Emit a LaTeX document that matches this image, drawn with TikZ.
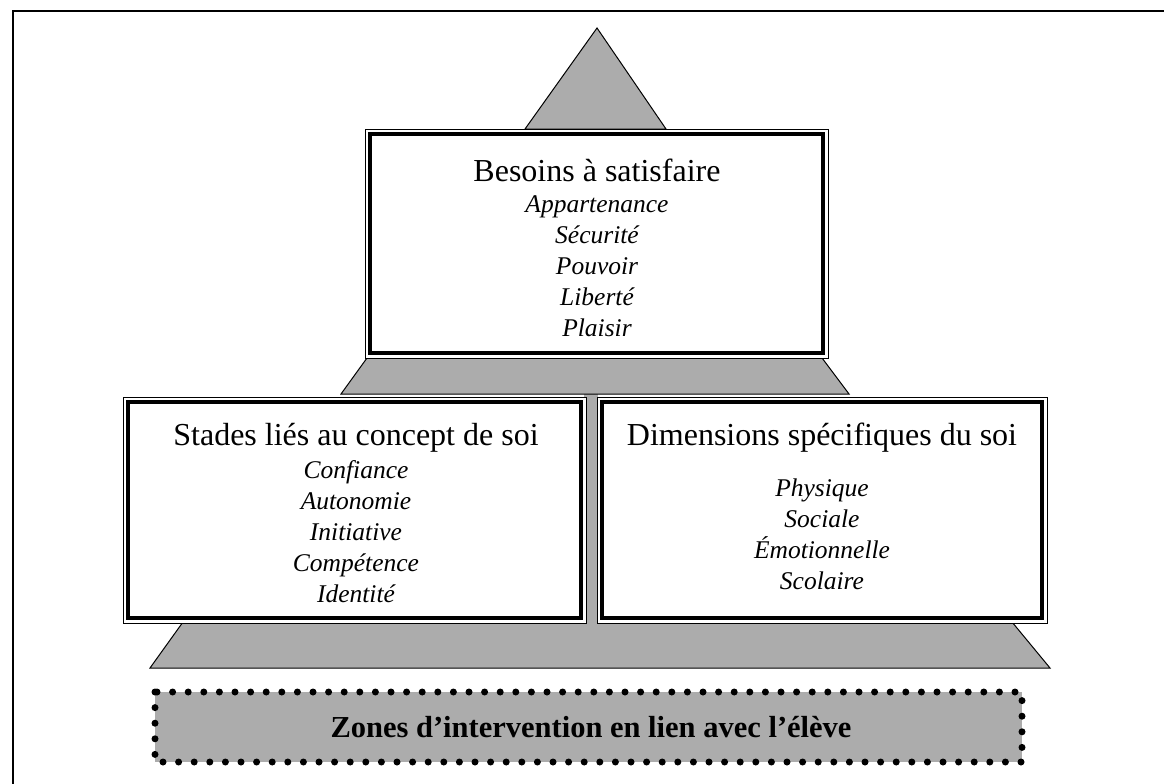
\documentclass[tikz,border=0pt]{standalone}
\usepackage{fontspec}
\setmainfont{Liberation Serif}
\definecolor{fillg}{RGB}{172,172,172}
\newcommand\dblbox[4]{%
  \fill[white] (#1,#2) rectangle (#3,#4);
  \draw[line width=1pt] (#1,#2) rectangle (#3,#4);
  \draw[line width=4.5pt] (#1+5,#2+5) rectangle (#3-5,#4-5);}
\begin{document}
\begin{tikzpicture}[x=1pt,y=-1pt,
  title/.style={font=\fontsize{32}{36}\selectfont, inner sep=0pt},
  items/.style={font=\fontsize{25.5}{31}\selectfont\itshape, align=center, inner sep=0pt},
  shade/.style={fill=fillg, draw=black, line width=1pt, line join=miter}]
\useasboundingbox (0,0) rectangle (1164,784);
% outer frame (partially visible)
\draw[line width=1.4pt] (13,784) -- (13,11) -- (1164,11);
% bottom trapezoid and strip between boxes
\draw[shade] (183,622) -- (1012,622) -- (1050,668) -- (150,668) -- cycle;
\fill[fillg] (584,392) rectangle (598,623);
% middle trapezoid
\draw[shade] (367,358) -- (822,358) -- (849,394) -- (341,394) -- cycle;
% top triangle
\draw[shade] (525,129) -- (597,28) -- (666,129) -- cycle;
% boxes
\dblbox{365}{129}{828}{358}
\dblbox{123}{397}{586}{623}
\dblbox{597}{397}{1047}{623}
% texts
\node[title] (t1) at (597,170) {Besoins à satisfaire};
\node[items, anchor=north] (i1) at (597,195) {Appartenance\\Sécurité\\Pouvoir\\Liberté\\Plaisir};
\node[title] (t2) at (356,438) {Stades liés au concept de soi};
\node[items, anchor=north] (i2) at (356,460) {Confiance\\Autonomie\\Initiative\\Compétence\\Identité};
\node[title] (t3) at (822,438) {Dimensions spécifiques du soi};
\node[items, anchor=north] (i3) at (822,479) {Physique\\Sociale\\Émotionnelle\\Scolaire};
% dotted bottom box
\fill[fillg] (155,692) rectangle (1022,762);
\draw[line width=7pt, line cap=round, dash pattern=on 0pt off 15.6pt] (155,692) rectangle (1022,762);
\node[font=\fontsize{30.5}{36}\selectfont\bfseries, inner sep=0pt] (z) at (591,727) {Zones d’intervention en lien avec l’élève};
\end{tikzpicture}
\end{document}
